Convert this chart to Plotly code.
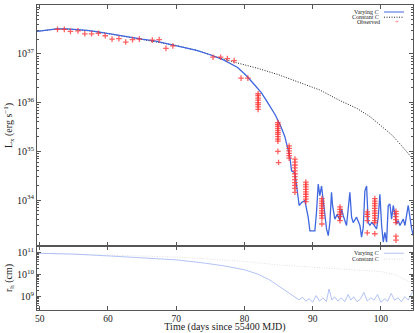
import numpy as np
import plotly.graph_objects as go
from plotly.subplots import make_subplots

# ---- data (luminosities / radii given as log10) ----
vary_day = [49.6, 51, 52.5, 54, 55.5, 57, 59, 61, 63, 65, 67, 69, 71, 73, 75, 77, 79,
            80.3, 81.5, 82.5, 83.5, 84.5, 85.3, 85.9, 86.66,
            86.9, 87.39, 87.63, 88.02, 88.37, 88.85, 89.34, 89.59, 90.32, 90.56, 90.81,
            91.05, 91.3, 91.54, 91.79, 92.03, 92.28, 92.52, 92.76, 92.91, 93.25, 93.6,
            93.99, 94.23, 94.48, 94.96, 95.45, 95.7, 95.94, 96.43, 96.92, 97.16, 97.41,
            97.65, 97.9, 98.14, 98.39, 98.63, 98.87, 99.36, 99.61, 99.85, 100.1, 100.34,
            100.58, 100.83, 101.07, 101.32, 101.56, 101.81, 102.3, 102.54, 102.78, 103.03,
            103.27, 103.52, 103.76, 104.0, 104.5, 104.74]
vary_lx = [37.46, 37.49, 37.51, 37.51, 37.50, 37.48, 37.44, 37.39, 37.34, 37.30, 37.26,
           37.20, 37.14, 37.07, 36.98, 36.87, 36.72,
           36.55, 36.36, 36.20, 35.98, 35.75, 35.52, 35.31, 34.88,
           34.60, 34.56, 34.29, 33.89, 33.95, 33.99, 33.65, 33.37, 33.37, 33.75, 34.33,
           34.09, 34.29, 33.95, 33.65, 33.41, 33.27, 33.54, 34.16, 33.89, 33.61, 33.71,
           33.58, 33.82, 33.68, 33.48, 34.16, 33.65, 33.54, 33.65, 33.48, 33.24, 33.44,
           34.19, 34.29, 33.54, 33.48, 33.54, 33.51, 33.41, 33.65, 34.12, 33.48, 33.14,
           33.34, 33.14, 33.89, 33.92, 33.61, 33.89, 33.51, 33.58, 33.48, 33.54,
           33.61, 33.48, 33.65, 33.89, 33.41, 33.27]

const_day = [49.6, 52.5, 55, 58, 61, 64, 67, 70, 73, 76, 79, 82, 85, 88, 91, 94,
             96.5, 98.5, 100, 101.5, 103, 104.7]
const_lx = [37.46, 37.51, 37.50, 37.46, 37.39, 37.32, 37.25, 37.17, 37.07, 36.93, 36.81,
            36.70, 36.57, 36.42, 36.26, 36.04, 35.88, 35.70, 35.52, 35.35, 35.12, 34.84]

obs_day = [52.6, 53.6, 54.5, 55.6, 56.6, 57.6, 58.6, 59.6, 60.6, 61.6, 62.6, 63.6, 64.6,
           66.5, 67.5, 68.5, 69.5, 75.4, 76.5, 77.5, 78.5, 79.5, 80.5,
           82.0, 82.0, 82.0, 82.0, 82.0, 82.0, 82.0, 82.0,
           84.9, 84.9, 84.9, 84.9, 84.9, 84.9, 84.9, 84.9, 84.9, 84.9, 84.9, 85.0,
           86.55, 86.55, 86.55, 86.55, 86.55, 86.55,
           87.4, 87.4, 87.4, 87.4, 87.4, 87.4, 87.4, 87.4, 87.4, 87.4, 87.4, 87.4,
           89.0, 89.0, 89.0, 89.0, 89.0, 89.0, 89.0, 89.0, 89.0,
           91.35, 91.35, 91.35, 91.35, 91.35, 91.35, 91.35, 91.35, 91.35, 91.35,
           94.0, 94.0, 94.0, 94.0, 94.0, 94.0,
           98.0, 98.0, 98.0, 98.0, 98.0,
           99.1, 99.1, 99.1, 99.1, 99.1, 99.1, 99.1, 99.1, 99.1, 99.1, 99.1, 99.1,
           102.2, 102.2, 102.2, 102.2, 102.2, 102.2, 102.2]
obs_lx = [37.50, 37.50, 37.46, 37.47, 37.41, 37.41, 37.42, 37.37, 37.30, 37.31, 37.24,
          37.29, 37.30, 37.28, 37.29, 37.11, 37.16, 36.93, 36.93, 36.90, 36.86, 36.50, 36.50,
          36.18, 36.14, 36.09, 36.05, 36.00, 35.96, 35.91, 35.86,
          35.59, 35.55, 35.51, 35.47, 35.43, 35.39, 35.35, 35.30, 35.25, 35.21, 35.00, 34.77,
          35.11, 35.06, 35.01, 34.96, 34.91, 34.86,
          34.84, 34.78, 34.72, 34.66, 34.60, 34.54, 34.48, 34.42, 34.36, 34.30, 34.24, 34.16,
          34.37, 34.32, 34.27, 34.22, 34.17, 34.12, 34.07, 34.02, 33.97,
          34.03, 33.98, 33.93, 33.88, 33.83, 33.78, 33.73, 33.68, 33.63, 33.51,
          33.86, 33.81, 33.76, 33.71, 33.66, 33.58,
          33.76, 33.71, 33.66, 33.58, 33.33,
          34.03, 33.98, 33.93, 33.88, 33.83, 33.78, 33.73, 33.68, 33.63, 33.58, 33.54, 33.31,
          33.77, 33.72, 33.66, 33.60, 33.54, 33.26, 33.18]

rh_vary_day = [49.6, 55, 60, 65, 70, 74, 77, 80, 82, 83.7, 85, 86, 87, 87.6, 88, 88.5, 89,
               89.5, 90, 90.5, 91, 91.5, 92, 92.4, 92.8, 93.2, 93.7, 94.2, 94.7, 95.2, 95.6,
               96, 96.5, 97, 97.5, 98, 98.5, 99, 99.5, 100, 100.5, 101, 101.5, 102, 102.5,
               103, 103.5, 104, 104.7]
rh_vary = [10.97, 10.93, 10.85, 10.75, 10.67, 10.53, 10.40, 10.22, 10.02, 9.76, 9.50, 9.30,
           9.08, 8.98, 8.86, 8.98, 8.80, 8.92, 8.75, 9.05, 8.80, 8.95, 8.78, 9.35, 8.85,
           9.00, 8.80, 8.95, 8.78, 9.10, 8.85, 9.00, 8.78, 8.90, 9.20, 8.80, 8.95, 8.85,
           9.10, 8.75, 8.90, 8.80, 9.15, 8.85, 8.95, 8.78, 9.00, 8.85, 9.25]

rh_const_day = [49.6, 60, 70, 80, 85, 90, 95, 100, 102, 104.7]
rh_const = [10.97, 10.90, 10.80, 10.60, 10.44, 10.34, 10.25, 10.14, 10.00, 9.61]

lx_ticks = [34, 35, 36, 37, 38]
rh_ticks = [9, 10, 11]
day_ticks = [50, 60, 70, 80, 90, 100]

SERIF = "Liberation Serif"
AXC = "#555555"
RED = "rgba(255,45,45,0.75)"

fig = make_subplots(rows=2, cols=1, shared_xaxes=True, vertical_spacing=0)

fig.add_trace(go.Scatter(x=const_day, y=10.0 ** np.array(const_lx), mode="lines",
                         line=dict(color="#222222", width=1, dash="1px,1.5px"),
                         showlegend=False), row=1, col=1)
fig.add_trace(go.Scatter(x=vary_day, y=10.0 ** np.array(vary_lx), mode="lines",
                         line=dict(color="#3f67e0", width=1.3),
                         showlegend=False), row=1, col=1)
fig.add_trace(go.Scatter(x=obs_day, y=10.0 ** np.array(obs_lx), mode="markers",
                         marker=dict(symbol="cross-thin-open", size=4, color=RED,
                                     line=dict(color=RED, width=1.3)),
                         showlegend=False), row=1, col=1)

fig.add_trace(go.Scatter(x=rh_const_day, y=10.0 ** np.array(rh_const), mode="lines",
                         line=dict(color="#d8d8d8", width=0.8, dash="1px,1.5px"),
                         showlegend=False), row=2, col=1)
fig.add_trace(go.Scatter(x=rh_vary_day, y=10.0 ** np.array(rh_vary), mode="lines",
                         line=dict(color="#9fb3f2", width=0.8),
                         showlegend=False), row=2, col=1)

axis_common = dict(showline=True, linecolor=AXC, linewidth=1, mirror="ticks",
                   ticks="inside", ticklen=4, tickcolor=AXC, showgrid=False, zeroline=False,
                   tickfont=dict(family=SERIF, size=10, color="#222222"))

fig.update_xaxes(range=[49.6, 104.7], tickvals=day_ticks, **axis_common)
fig.update_xaxes(showticklabels=False, row=1, col=1)
fig.update_xaxes(tickfont=dict(family=SERIF, size=9.5, color="#222222"),
                 title=dict(text="Time (days since 55400 MJD)", standoff=0,
                            font=dict(family=SERIF, size=10, color="#222222")), row=2, col=1)

fig.update_yaxes(type="log", range=[33.06, 38], tickvals=[10.0 ** t for t in lx_ticks],
                 ticktext=["10<sup>%d</sup>" % t for t in lx_ticks],
                 minor=dict(ticks="inside", ticklen=2, tickcolor=AXC, dtick="D1"),
                 title=dict(text="L<sub>x</sub> (erg s<sup>−1</sup>)", standoff=2,
                            font=dict(family=SERIF, size=10, color="#222222")),
                 row=1, col=1, **axis_common)
fig.update_yaxes(type="log", range=[8.4, 11.3], tickvals=[10.0 ** t for t in rh_ticks],
                 ticktext=["10<sup>%d</sup>" % t for t in rh_ticks],
                 minor=dict(ticks="inside", ticklen=2, tickcolor=AXC, dtick="D1"),
                 title=dict(text="r<sub>h</sub> (cm)", standoff=2,
                            font=dict(family=SERIF, size=10, color="#222222")),
                 row=2, col=1, **axis_common)

fig.update_layout(
    width=415, height=333,
    margin=dict(l=37, r=2, t=5, b=23),
    paper_bgcolor="white", plot_bgcolor="white",
    font=dict(family=SERIF, color="#222222"),
    showlegend=False,
    yaxis=dict(domain=[0.21, 1]),
    yaxis2=dict(domain=[0, 0.21]),
)

# hand-made legends (text to the left of the sample, as in the original)
def legend_row(y, label, kind, color):
    fig.add_annotation(xref="paper", yref="paper", x=0.918, y=y, text=label,
                       showarrow=False, xanchor="right", yanchor="middle",
                       font=dict(family=SERIF, size=6, color="#222222"))
    if kind == "marker":
        fig.add_annotation(xref="paper", yref="paper", x=0.957, y=y, text="+",
                           showarrow=False, xanchor="center", yanchor="middle",
                           font=dict(family=SERIF, size=7, color=color))
    else:
        fig.add_shape(type="line", xref="paper", yref="paper", x0=0.923, x1=0.976,
                      y0=y, y1=y, line=dict(color=color, width=1,
                                            dash="solid" if kind == "solid" else "1px,1.5px"))

legend_row(0.977, "Varying <i>C</i>", "solid", "#3f67e0")
legend_row(0.960, "Constant <i>C</i>", "dot", "#222222")
legend_row(0.943, "Observed", "marker", RED)
legend_row(0.186, "Varying <i>C</i>", "solid", "#b5c4f4")
legend_row(0.167, "Constant <i>C</i>", "dot", "#d8d8d8")

fig.write_html("out.html", config={"displayModeBar": False},
               post_script="document.body.style.margin='0';")
